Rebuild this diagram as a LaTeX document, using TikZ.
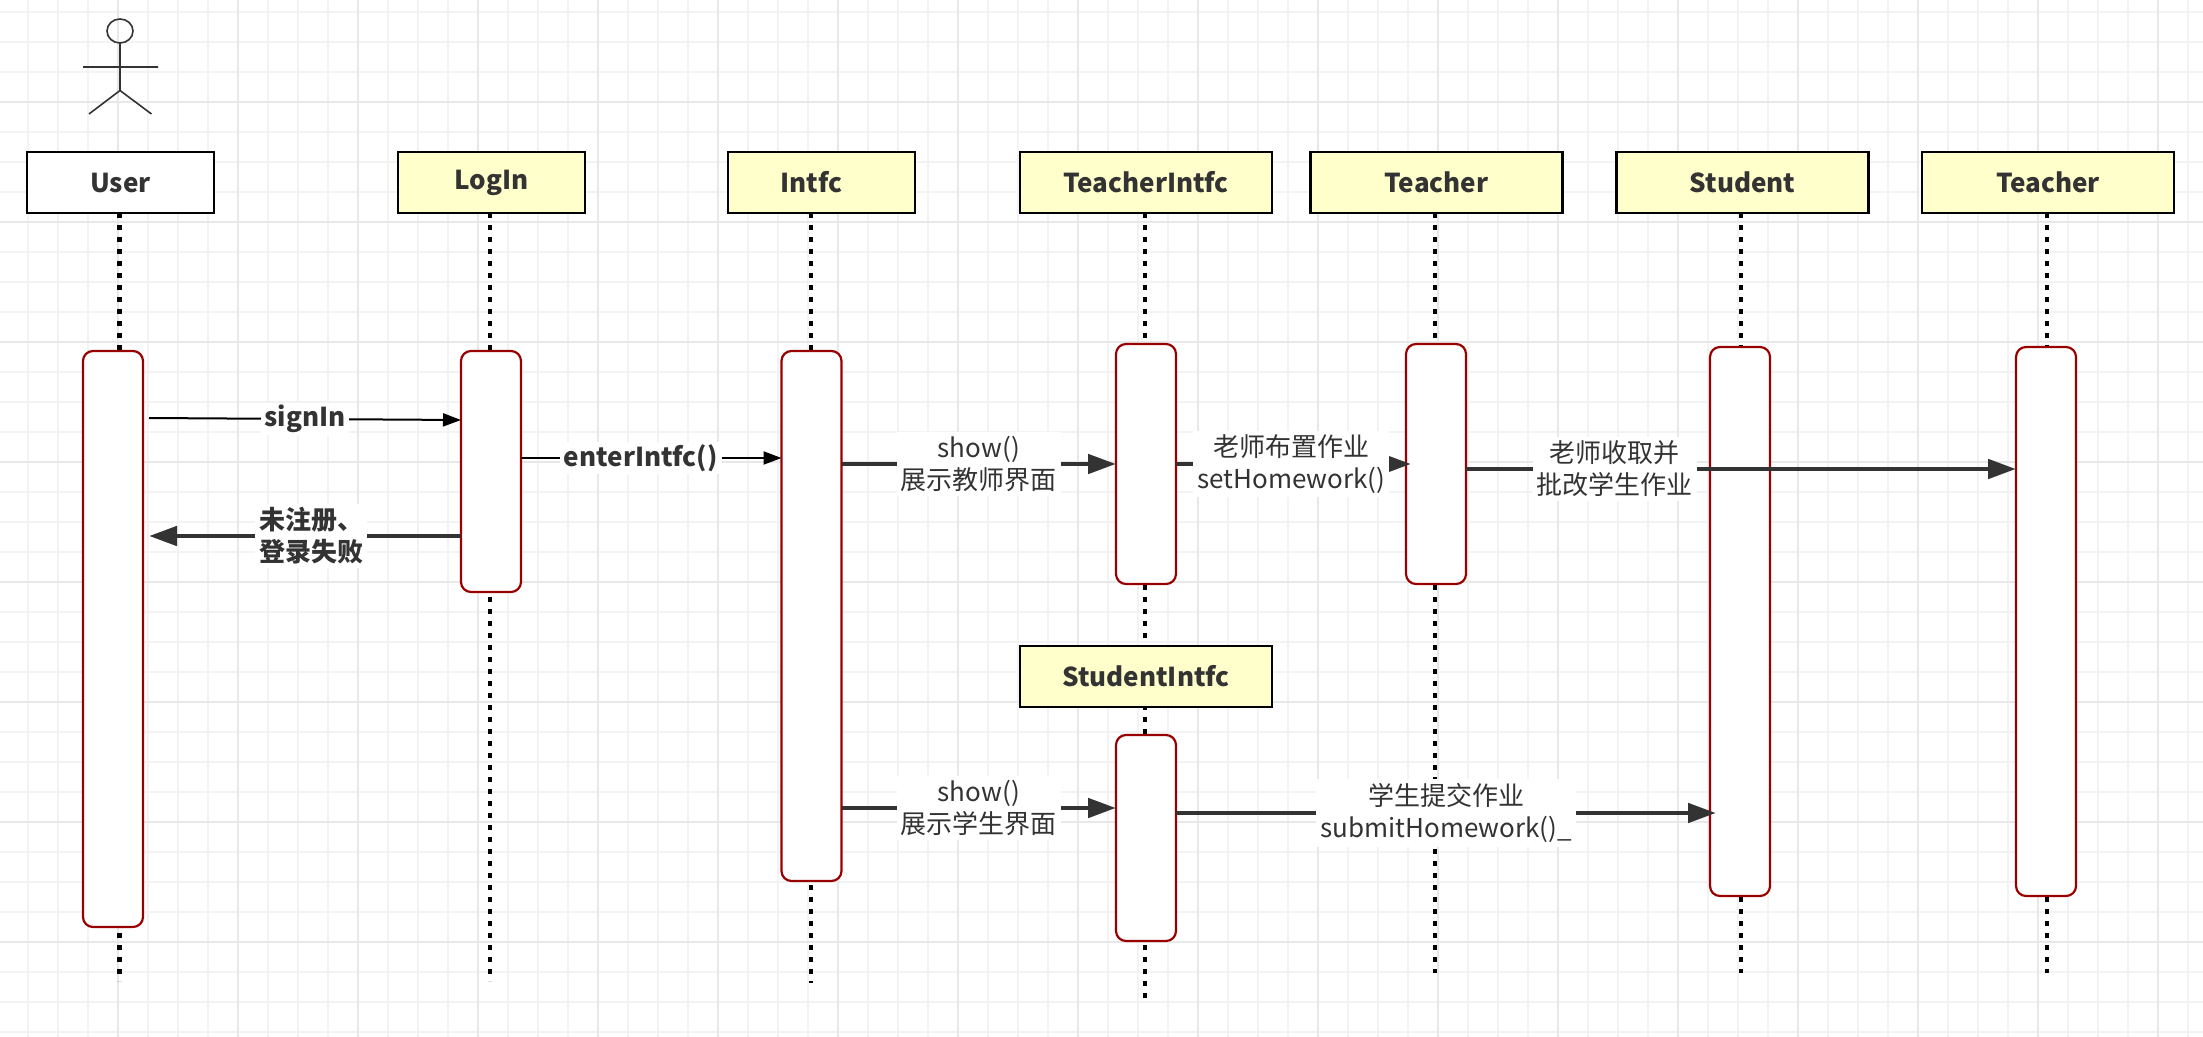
\documentclass[tikz,border=0pt]{standalone}
\usepackage{fontspec}
\setmainfont{Noto Sans CJK SC}
\usetikzlibrary{arrows.meta}
\definecolor{gridmaj}{HTML}{E8E8E8}
\definecolor{gridmin}{HTML}{F3F3F3}
\definecolor{ink}{HTML}{333333}
\definecolor{actred}{HTML}{990000}
\definecolor{boxyellow}{HTML}{FFFFCC}
\tikzset{
  base/.style={font=\fontsize{13pt}{16pt}\selectfont,text=ink},
  headbox/.style={base,draw=black,line width=1.25pt,fill=boxyellow,minimum width=93.5pt,minimum height=30.5pt,inner sep=0pt,outer sep=0pt,font=\fontsize{13pt}{16pt}\selectfont\bfseries},
  wideheadbox/.style={headbox,minimum width=126pt},
  activation/.style={draw=actred,line width=1.1pt,fill=white,rounded corners=5pt,minimum width=30pt,inner sep=0pt,outer sep=0pt},
  lifeline/.style={draw=black,line width=2.2pt,dash pattern=on 2.5pt off 3.5pt},
  thinarrow/.style={draw=black,line width=1pt,-{Triangle[length=9pt,width=6.5pt]}},
  boldarrow/.style={draw=ink,line width=2.4pt,-{Triangle[length=14pt,width=9.5pt]}},
  msg/.style={base,fill=white,inner xsep=2pt,inner ysep=2pt,align=center,outer sep=0pt},
  msgbold/.style={msg,font=\fontsize{13pt}{16pt}\selectfont\bfseries},
  actorline/.style={draw=ink,line width=0.8pt},
}
\begin{document}
\begin{tikzpicture}[x=0.5pt,y=-0.5pt]
\useasboundingbox (0,0) rectangle (2203,1037);
\fill[white] (0,0) rectangle (2203,1037);
% grid
\foreach \x in {28,58,...,2203} \draw[gridmin,line width=1pt] (\x,0) -- (\x,1037);
\foreach \y in {12,42,...,1037} \draw[gridmin,line width=1pt] (0,\y) -- (2203,\y);
\foreach \x in {118,238,...,2203} \draw[gridmaj,line width=1pt] (\x,0) -- (\x,1037);
\foreach \y in {102,222,...,1037} \draw[gridmaj,line width=1pt] (0,\y) -- (2203,\y);
% actor
\coordinate (hip) at (120,90.5);
\coordinate (neck) at (120,43);
\coordinate (armL) at (83,67);
\coordinate (armR) at (158,67);
\coordinate (legL) at (89,114);
\coordinate (legR) at (151.5,114);
\draw[actorline] (120,31) ellipse [x radius=13,y radius=12];
\draw[actorline] (neck) -- (hip) (armL) -- (armR) (legL) -- (hip) -- (legR);
% heads
\node[headbox,fill=white] (User) at (120.5,182.5) {User};
\node[headbox] (LogIn) at (491.5,182.5) {LogIn};
\node[headbox] (Intfc) at (821.5,182.5) {Intfc\hspace*{10pt}};
\node[wideheadbox] (TeacherIntfc) at (1146,182.5) {TeacherIntfc};
\node[wideheadbox] (TeacherA) at (1436.5,182.5) {Teacher};
\node[wideheadbox] (Student) at (1742.5,182.5) {Student};
\node[wideheadbox] (TeacherB) at (2048,182.5) {Teacher};
% lifeline ends
\coordinate (endUser) at (119.5,981);
\coordinate (endLogIn) at (490,981);
\coordinate (endIntfc) at (811,983);
\coordinate (endTI) at (1145,1000);
\coordinate (endTA) at (1435,973);
\coordinate (endS) at (1741,973);
\coordinate (endTB) at (2047,973);
\draw[lifeline] (119.5,213) -- (endUser);
\draw[lifeline] (490,213) -- (endLogIn);
\draw[lifeline] (811,213) -- (endIntfc);
\draw[lifeline] (1145,213) -- (endTI);
\draw[lifeline] (1435,213) -- (endTA);
\draw[lifeline] (1741,213) -- (endS);
\draw[lifeline] (2047,213) -- (endTB);
% activations
\node[activation,minimum height=288pt] (aUser) at (113,639) {};
\node[activation,minimum height=120.5pt] (aLogIn) at (491,471.5) {};
\node[activation,minimum height=265pt] (aIntfc) at (811.5,616) {};
\node[activation,minimum height=120pt] (aTI) at (1146,464) {};
\node[activation,minimum height=120pt] (aTA) at (1436,464) {};
\node[activation,minimum height=274.5pt] (aS) at (1740,621.5) {};
\node[activation,minimum height=274.5pt] (aTB) at (2046,621.5) {};
\node[activation,minimum height=103pt] (aSI) at (1146,838) {};
\node[wideheadbox] (StudentIntfc) at (1146,676.5) {StudentIntfc};
% free ends
\coordinate (userOut) at (149,418);
\coordinate (userIn) at (149,536);
\coordinate (taIn) at (1411,464);
\coordinate (sIn) at (1716,813);
% connectors
\draw[thinarrow] (userOut) -- (aLogIn.west |- 0,420) node[msgbold,pos=.5,inner ysep=1pt] (lSign) {signIn};
\draw[thinarrow] (aLogIn.east |- 0,458) -- (aIntfc.west |- 0,458) node[msgbold,pos=.46,inner ysep=1pt] (lEnter) {enterIntfc()};
\draw[boldarrow] (aLogIn.west |- 0,536) -- (userIn) node[msgbold,pos=.48,align=left] (lFail) {未注册、\\登录失败};
\draw[boldarrow] (aIntfc.east |- 0,464) -- (aTI.west |- 0,464) node[msg,pos=.5] (lShowT) {show()\\展示教师界面};
\draw[boldarrow] (aTI.east |- 0,464) -- (taIn) node[msg,pos=.49] (lSet) {老师布置作业\\setHomework()};
\draw[boldarrow] (aTA.east |- 0,469) -- (aTB.west |- 0,469) node[msg,pos=.27] (lColl) {老师收取并\\批改学生作业};
\draw[boldarrow] (aIntfc.east |- 0,808) -- (aSI.west |- 0,808) node[msg,pos=.5] (lShowS) {show()\\展示学生界面};
\draw[boldarrow] (aSI.east |- 0,813) -- (sIn) node[msg,pos=.5] (lSub) {学生提交作业\\submitHomework()\_};
\end{tikzpicture}
\end{document}
